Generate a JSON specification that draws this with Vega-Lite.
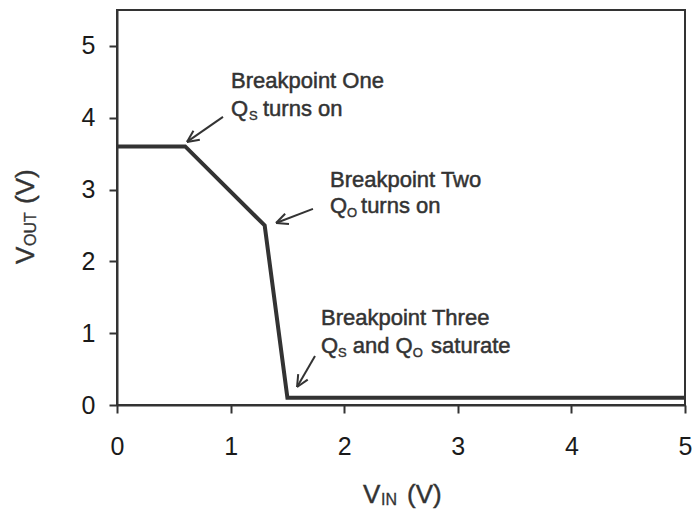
{
  "$schema": "https://vega.github.io/schema/vega-lite/v6.json",
  "width": 568,
  "height": 395,
  "autosize": "none",
  "padding": {"left": 117, "top": 10, "right": 9, "bottom": 106},
  "background": "white",
  "config": {
    "font": "Liberation Sans",
    "view": {"stroke": "#333", "strokeWidth": 2},
    "axis": {
      "grid": false,
      "domainColor": "#333",
      "domainWidth": 2,
      "tickColor": "#333",
      "tickWidth": 2,
      "tickSize": 8,
      "labelFont": "Liberation Sans",
      "labelFontSize": 25,
      "labelColor": "#1a1a1a",
      "labelFlush": false,
      "labelOverlap": false
    }
  },
  "datasets": {
    "curve": [
      {"vin": 0, "vout": 3.6},
      {"vin": 0.6, "vout": 3.6},
      {"vin": 1.3, "vout": 2.5},
      {"vin": 1.5, "vout": 0.1},
      {"vin": 5, "vout": 0.1}
    ],
    "arrows": [
      {"vin": 0.933, "vout": 4.011, "vin2": 0.616, "vout2": 3.663},
      {"vin": 0.616, "vout": 3.663, "vin2": 0.729, "vout2": 3.694},
      {"vin": 0.616, "vout": 3.663, "vin2": 0.673, "vout2": 3.819},
      {"vin": 1.725, "vout": 2.73, "vin2": 1.4, "vout2": 2.535},
      {"vin": 1.4, "vout": 2.535, "vin2": 1.514, "vout2": 2.521},
      {"vin": 1.4, "vout": 2.535, "vin2": 1.48, "vout2": 2.664},
      {"vin": 1.743, "vout": 0.682, "vin2": 1.585, "vout2": 0.251},
      {"vin": 1.585, "vout": 0.251, "vin2": 1.679, "vout2": 0.354},
      {"vin": 1.585, "vout": 0.251, "vin2": 1.595, "vout2": 0.43}
    ],
    "notes": [
      {"vin": 1.004, "vout": 4.41, "text": "Breakpoint One"},
      {"vin": 1.004, "vout": 4.02, "text": "Q"},
      {"vin": 1.285, "vout": 4.02, "text": "turns on"},
      {"vin": 1.875, "vout": 3.04, "text": "Breakpoint Two"},
      {"vin": 1.875, "vout": 2.67, "text": "Q"},
      {"vin": 2.148, "vout": 2.67, "text": "turns on"},
      {"vin": 1.796, "vout": 1.11, "text": "Breakpoint Three"},
      {"vin": 1.796, "vout": 0.72, "text": "Q"},
      {"vin": 2.075, "vout": 0.72, "text": "and Q"},
      {"vin": 2.765, "vout": 0.72, "text": "saturate"}
    ],
    "noteSubs": [
      {"vin": 1.162, "vout": 3.97, "text": "S"},
      {"vin": 2.025, "vout": 2.62, "text": "O"},
      {"vin": 1.945, "vout": 0.67, "text": "S"},
      {"vin": 2.603, "vout": 0.67, "text": "O"}
    ],
    "xTitle": [
      {"vin": 2.165, "vout": -1.365, "text": "V"},
      {"vin": 2.553, "vout": -1.365, "text": "(V)"}
    ],
    "xTitleSub": [
      {"vin": 2.324, "vout": -1.393, "text": "IN"}
    ],
    "yTitle": [
      {"vin": -0.731, "vout": 1.964, "text": "V"},
      {"vin": -0.731, "vout": 2.8, "text": "(V)"}
    ],
    "yTitleSub": [
      {"vin": -0.713, "vout": 2.214, "text": "OUT"}
    ]
  },
  "encoding": {
    "x": {
      "field": "vin",
      "type": "quantitative",
      "scale": {"domain": [0, 5], "nice": false, "zero": false},
      "axis": {"values": [0, 1, 2, 3, 4, 5], "labelPadding": 21, "title": null}
    },
    "y": {
      "field": "vout",
      "type": "quantitative",
      "scale": {"domain": [0, 5.5], "nice": false, "zero": false},
      "axis": {"values": [0, 1, 2, 3, 4, 5], "labelPadding": 14, "title": null}
    }
  },
  "layer": [
    {
      "data": {"name": "curve"},
      "mark": {"type": "line", "color": "#333", "strokeWidth": 4, "strokeJoin": "miter"}
    },
    {
      "data": {"name": "arrows"},
      "mark": {"type": "rule", "color": "#333", "strokeWidth": 2},
      "encoding": {
        "x2": {"field": "vin2"},
        "y2": {"field": "vout2"}
      }
    },
    {
      "data": {"name": "notes"},
      "mark": {"type": "text", "align": "left", "baseline": "alphabetic", "fontSize": 22, "color": "#333", "stroke": "#333", "strokeWidth": 0.5},
      "encoding": {"text": {"field": "text"}}
    },
    {
      "data": {"name": "noteSubs"},
      "mark": {"type": "text", "align": "left", "baseline": "alphabetic", "fontSize": 13, "color": "#333", "stroke": "#333", "strokeWidth": 0.4},
      "encoding": {"text": {"field": "text"}}
    },
    {
      "data": {"name": "xTitle"},
      "mark": {"type": "text", "align": "left", "baseline": "alphabetic", "fontSize": 26, "color": "#333", "stroke": "#333", "strokeWidth": 0.4},
      "encoding": {"text": {"field": "text"}}
    },
    {
      "data": {"name": "xTitleSub"},
      "mark": {"type": "text", "align": "left", "baseline": "alphabetic", "fontSize": 16, "color": "#333", "stroke": "#333", "strokeWidth": 0.3},
      "encoding": {"text": {"field": "text"}}
    },
    {
      "data": {"name": "yTitle"},
      "mark": {"type": "text", "align": "left", "baseline": "alphabetic", "fontSize": 26, "angle": 270, "color": "#333", "stroke": "#333", "strokeWidth": 0.4},
      "encoding": {"text": {"field": "text"}}
    },
    {
      "data": {"name": "yTitleSub"},
      "mark": {"type": "text", "align": "left", "baseline": "alphabetic", "fontSize": 16, "angle": 270, "color": "#333", "stroke": "#333", "strokeWidth": 0.3},
      "encoding": {"text": {"field": "text"}}
    }
  ]
}
